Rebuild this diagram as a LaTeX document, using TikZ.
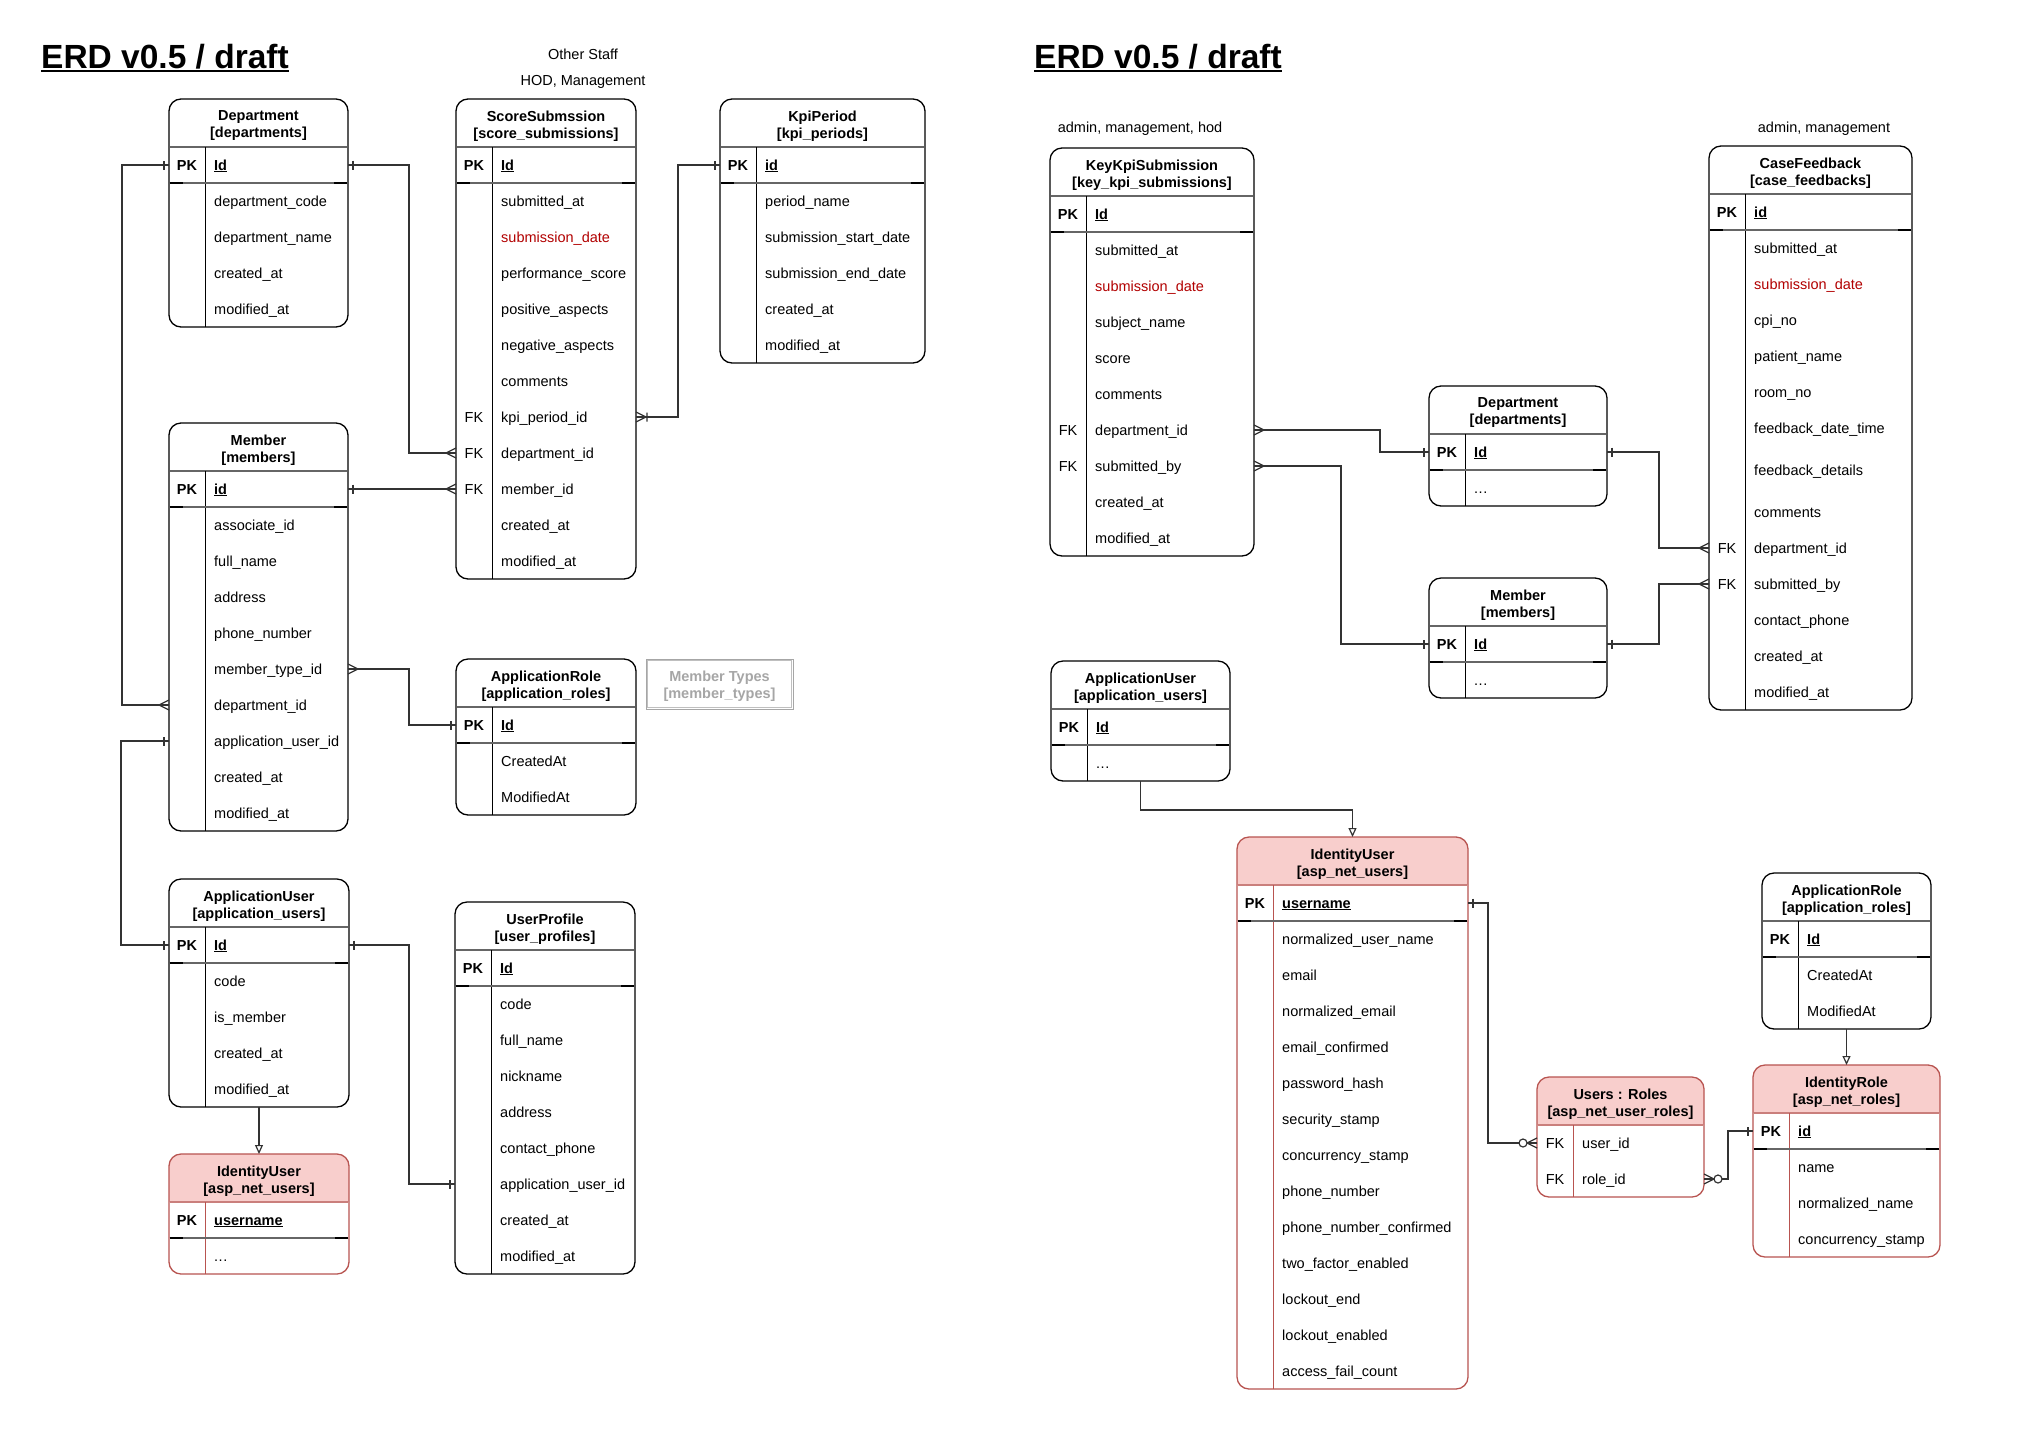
\documentclass[tikz,border=0pt]{standalone}
\usepackage{fontspec}
\setmainfont{Liberation Sans}
\usetikzlibrary{arrows.meta}

\definecolor{datered}{HTML}{B20000}
\definecolor{pinkhead}{HTML}{F8CECC}
\definecolor{pinkedge}{HTML}{B85450}
\colorlet{plain-edge}{black}
\colorlet{plain-head}{white}
\colorlet{plain-hsep}{black!60}
\colorlet{plain-div}{black}
\colorlet{pink-edge}{pinkedge}
\colorlet{pink-head}{pinkhead}
\colorlet{pink-hsep}{pinkedge!75}
\colorlet{pink-div}{pinkedge}

% ER end marks
\pgfdeclarearrow{
  name = erone,
  setup code = {
    \pgfarrowssettipend{0pt}\pgfarrowssetlineend{0pt}\pgfarrowssetbackend{-6pt}
    \pgfarrowshullpoint{0pt}{5pt}\pgfarrowshullpoint{-6pt}{-5pt}
  },
  drawing code = {
    \pgfpathmoveto{\pgfpoint{-5pt}{-4.5pt}}
    \pgfpathlineto{\pgfpoint{-5pt}{4.5pt}}
    \pgfusepathqstroke
  }
}
\pgfdeclarearrow{
  name = ercrow,
  setup code = {
    \pgfarrowssettipend{0pt}\pgfarrowssetlineend{0pt}\pgfarrowssetbackend{-10pt}
    \pgfarrowshullpoint{0pt}{5pt}\pgfarrowshullpoint{0pt}{-5pt}\pgfarrowshullpoint{-10pt}{0pt}
  },
  drawing code = {
    \pgfpathmoveto{\pgfpoint{0pt}{5pt}}
    \pgfpathlineto{\pgfpoint{-10pt}{0pt}}
    \pgfpathlineto{\pgfpoint{0pt}{-5pt}}
    \pgfusepathqstroke
  }
}
\pgfdeclarearrow{
  name = ermandmany,
  setup code = {
    \pgfarrowssettipend{0pt}\pgfarrowssetlineend{0pt}\pgfarrowssetbackend{-12pt}
    \pgfarrowshullpoint{0pt}{5pt}\pgfarrowshullpoint{0pt}{-5pt}\pgfarrowshullpoint{-12pt}{0pt}
  },
  drawing code = {
    \pgfpathmoveto{\pgfpoint{0pt}{5pt}}
    \pgfpathlineto{\pgfpoint{-10pt}{0pt}}
    \pgfpathlineto{\pgfpoint{0pt}{-5pt}}
    \pgfpathmoveto{\pgfpoint{-11pt}{-4.5pt}}
    \pgfpathlineto{\pgfpoint{-11pt}{4.5pt}}
    \pgfusepathqstroke
  }
}
\pgfdeclarearrow{
  name = erzeromany,
  setup code = {
    \pgfarrowssettipend{0pt}\pgfarrowssetlineend{0pt}\pgfarrowssetbackend{-19pt}
    \pgfarrowshullpoint{0pt}{5pt}\pgfarrowshullpoint{0pt}{-5pt}\pgfarrowshullpoint{-19pt}{0pt}
  },
  drawing code = {
    \pgfpathmoveto{\pgfpoint{0pt}{5pt}}
    \pgfpathlineto{\pgfpoint{-10pt}{0pt}}
    \pgfpathlineto{\pgfpoint{0pt}{-5pt}}
    \pgfusepathqstroke
    \pgfsetfillcolor{white}
    \pgfpathcircle{\pgfpoint{-14pt}{0pt}}{4pt}
    \pgfusepathqfillstroke
  }
}

\newcommand{\erfont}{\fontsize{14.5}{17}\selectfont}
\tikzset{
  conn/.style={draw=black!80, line width=1.2pt},
  isa/.style={conn, -{Triangle[open,length=9pt,width=8pt]}},
  erfield/.style={anchor=base west, inner sep=0pt},
  erkey/.style={anchor=base, inner sep=0pt},
  note/.style={anchor=base, inner sep=0pt},
  bigtitle/.style={anchor=base west, inner sep=0pt, font=\bfseries\fontsize{33.5}{40}\selectfont}
}

\newcommand{\tallrow}{99}
\newcommand{\pkh}{36}
\newcommand{\more}{.\kern0.5pt.\kern0.5pt.}
% #1 look, #2 name, #3 x, #4 y, #5 width, #6 rows, #7 title, #8 pk field, #9 fields
\newcommand{\erent}[9][plain]{%
  \pgfmathsetmacro\erh{48+\pkh+36*#6+ifthenelse(\tallrow<99,12,0)}
  \fill[#1-head] (#3,#4+48) [rounded corners=12pt] -- (#3,#4) -- (#3+#5,#4) [sharp corners] -- (#3+#5,#4+48) -- cycle;
  \node[draw=#1-edge, line width=1.3pt, rounded corners=12pt, minimum width=#5pt,
    minimum height=\erh pt, anchor=north west, inner sep=0pt, outer sep=0pt] (#2) at (#3,#4) {};
  \draw[#1-hsep, line width=1.8pt] (#3+0.6,#4+48) -- (#3+#5-0.6,#4+48);
  \draw[#1-div, line width=1pt] (#3+36,#4+48) -- (#3+36,#4+\erh);
  \node[font=\erfont\bfseries, align=center, inner sep=0pt] (#2-title) at (#3+#5/2,#4+27) {#7};
  \ifdim\pkh pt>0pt
    \draw[black!60, line width=2pt] (#3+0.6,#4+84) -- (#3+#5-0.6,#4+84);
    \draw[black, line width=2pt] (#3+0.6,#4+84) -- ++(13,0) (#3+#5-0.6,#4+84) -- ++(-13,0);
    \node[erkey, font=\erfont\bfseries] (#2-pkkey) at (#3+18,#4+71) {PK};
    \node[erfield, font=\erfont\bfseries] (#2-pkname) at (#3+45,#4+71) {\underline{#8}};
    \coordinate (#2-pk-w) at (#3,#4+66);
    \coordinate (#2-pk-e) at (#3+#5,#4+66);
  \fi
  \foreach \k/\t [count=\i] in {#9} {
    \pgfmathsetmacro\ry{#4+48+\pkh+(\i-1)*36+18+ifthenelse(\i>\tallrow,12,0)+ifthenelse(\i==\tallrow,6,0)}
    \node[erkey] (#2-k\i) at (#3+18,\ry+5) {\k};
    \node[erfield] (#2-f\i) at (#3+45,\ry+5) {\t};
    \coordinate (#2-\i-w) at (#3,\ry);
    \coordinate (#2-\i-e) at (#3+#5,\ry);
  }%
}

\begin{document}
\begin{tikzpicture}[x=1pt, y=-1pt, font=\erfont]
  \useasboundingbox (0,0) rectangle (2033,1451);
  \fill[white] (0,0) rectangle (2033,1451);

  % left sheet
  \node[bigtitle] (ltitle) at (41,68) {ERD v0.5 / draft};
  \draw[line width=2.5pt] ([yshift=-3pt]ltitle.base west) -- ([yshift=-3pt]ltitle.base east);
  \node[note] (lnote1) at (583,59) {Other Staff};
  \node[note] (lnote2) at (583,85) {HOD, Management};

  \erent{ldep}{169}{99}{179}{4}{Department\\{}[departments]}{Id}{/department\_code, /department\_name, /created\_at, /modified\_at}
  \erent{lss}{456}{99}{180}{11}{ScoreSubmssion\\{}[score\_submissions]}{Id}{/submitted\_at, /\textcolor{datered}{submission\_date}, /performance\_score, /positive\_aspects, /negative\_aspects, /comments, FK/kpi\_period\_id, FK/department\_id, FK/member\_id, /created\_at, /modified\_at}
  \erent{lkpi}{720}{99}{205}{5}{KpiPeriod\\{}[kpi\_periods]}{id}{/period\_name, /submission\_start\_date, /submission\_end\_date, /created\_at, /modified\_at}
  \erent{lmem}{169}{423}{179}{9}{Member\\{}[members]}{id}{/associate\_id, /full\_name, /address, /phone\_number, /member\_type\_id, /department\_id, /application\_user\_id, /created\_at, /modified\_at}
  \erent{lar}{456}{659}{180}{2}{ApplicationRole\\{}[application\_roles]}{Id}{/CreatedAt, /ModifiedAt}
  \erent{lau}{169}{879}{180}{4}{ApplicationUser\\{}[application\_users]}{Id}{/code, /is\_member, /created\_at, /modified\_at}
  \erent[pink]{liu}{169}{1154}{180}{1}{IdentityUser\\{}[asp\_net\_users]}{username}{/\more}
  \erent{lup}{455}{902}{180}{8}{UserProfile\\{}[user\_profiles]}{Id}{/code, /full\_name, /nickname, /address, /contact\_phone, /application\_user\_id, /created\_at, /modified\_at}

  % unused table
  \draw[black!35, line width=1pt] (646,659) rectangle (793,709);
  \draw[black!25, line width=1pt] (647.5,660.5) rectangle (791.5,707);
  \node[font=\erfont\bfseries, text=black!35, align=center, inner sep=0pt] (mtypes) at (719.5,686) {Member Types\\{}[member\_types]};

  \draw[conn, erone-ercrow] (ldep-pk-e) -- ++(61,0) |- (lss-8-w);
  \draw[conn, erone-ercrow] (lmem-pk-e) -- (lss-9-w);
  \draw[conn, ermandmany-erone] (lss-7-e) -- ++(42,0) |- (lkpi-pk-w);
  \draw[conn, erone-ercrow] (ldep-pk-w) -- ++(-47,0) |- (lmem-6-w);
  \draw[conn, erone-erone] (lmem-7-w) -- ++(-48,0) |- (lau-pk-w);
  \draw[conn, ercrow-erone] (lmem-5-e) -- ++(61,0) |- (lar-pk-w);
  \draw[conn, erone-erone] (lau-pk-e) -- ++(60,0) |- (lup-6-w);
  \draw[isa] (lau.south) -- (liu.north);

  % right sheet
  \node[bigtitle] (rtitle) at (1034,68) {ERD v0.5 / draft};
  \draw[line width=2.5pt] ([yshift=-3pt]rtitle.base west) -- ([yshift=-3pt]rtitle.base east);
  \node[note] (rnote1) at (1140,132) {admin, management, hod};
  \node[note] (rnote2) at (1824,132) {admin, management};

  \erent{rkks}{1050}{148}{204}{9}{KeyKpiSubmission\\{}[key\_kpi\_submissions]}{Id}{/submitted\_at, /\textcolor{datered}{submission\_date}, /subject\_name, /score, /comments, FK/department\_id, FK/submitted\_by, /created\_at, /modified\_at}
  \erent{rdep}{1429}{386}{178}{1}{Department\\{}[departments]}{Id}{/\more}
  \erent{rmem}{1429}{578}{178}{1}{Member\\{}[members]}{Id}{/\more}
  \renewcommand{\tallrow}{7}
  \erent{rcf}{1709}{146}{203}{13}{CaseFeedback\\{}[case\_feedbacks]}{id}{/submitted\_at, /\textcolor{datered}{submission\_date}, /cpi\_no, /patient\_name, /room\_no, /feedback\_date\_time, /feedback\_details, /comments, FK/department\_id, FK/submitted\_by, /contact\_phone, /created\_at, /modified\_at}
  \renewcommand{\tallrow}{99}
  \erent{rau}{1051}{661}{179}{1}{ApplicationUser\\{}[application\_users]}{Id}{/\more}
  \erent[pink]{riu}{1237}{837}{231}{13}{IdentityUser\\{}[asp\_net\_users]}{username}{/normalized\_user\_name, /email, /normalized\_email, /email\_confirmed, /password\_hash, /security\_stamp, /concurrency\_stamp, /phone\_number, /phone\_number\_confirmed, /two\_factor\_enabled, /lockout\_end, /lockout\_enabled, /access\_fail\_count}
  \erent{rar}{1762}{873}{169}{2}{ApplicationRole\\{}[application\_roles]}{Id}{/CreatedAt, /ModifiedAt}
  \erent[pink]{rir}{1753}{1065}{187}{3}{IdentityRole\\{}[asp\_net\_roles]}{id}{/name, /normalized\_name, /concurrency\_stamp}
  \renewcommand{\pkh}{0}
  \erent[pink]{rur}{1537}{1077}{167}{2}{Users : Roles\\{}[asp\_net\_user\_roles]}{}{FK/user\_id, FK/role\_id}
  \renewcommand{\pkh}{36}

  \draw[conn, ercrow-erone] (rkks-6-e) -- ++(126,0) |- (rdep-pk-w);
  \draw[conn, ercrow-erone] (rkks-7-e) -- ++(87,0) |- (rmem-pk-w);
  \draw[conn, erone-ercrow] (rdep-pk-e) -- ++(52,0) |- (rcf-9-w);
  \draw[conn, erone-ercrow] (rmem-pk-e) -- ++(52,0) |- (rcf-10-w);
  \draw[isa] (rau.south) -- ++(0,29) -| (riu.north);
  \draw[conn, erone-erzeromany] (riu-pk-e) -- ++(20,0) |- (rur-1-w);
  \draw[conn, erzeromany-erone] (rur-2-e) -- ++(24,0) |- (rir-pk-w);
  \draw[isa] (rar.south) -- (rir.north);
\end{tikzpicture}
\end{document}
